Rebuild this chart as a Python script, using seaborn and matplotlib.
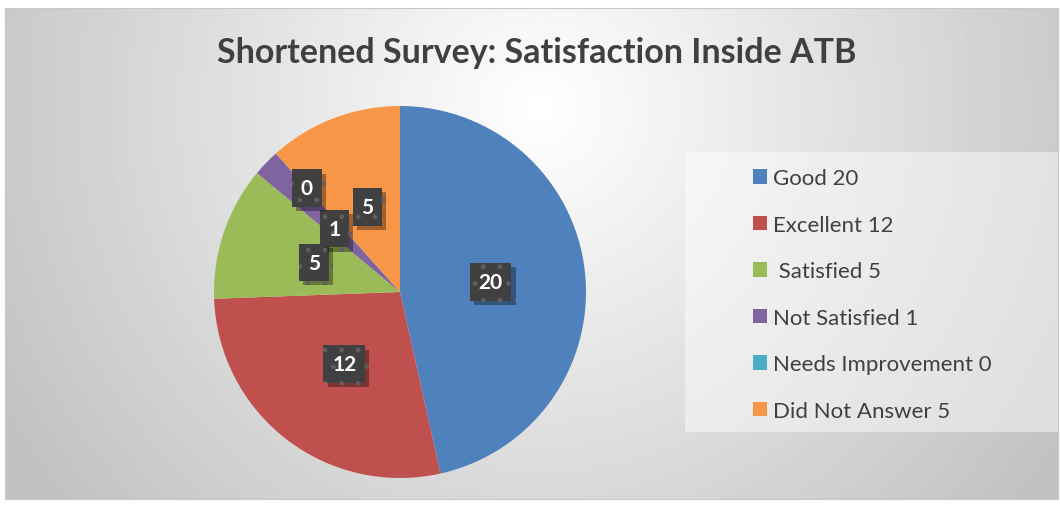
import numpy as np
import matplotlib
matplotlib.use("Agg")
import matplotlib.pyplot as plt
import matplotlib.patheffects as pe
from matplotlib.patches import Patch, Rectangle
import seaborn as sns

# Survey data
categories = ["Good", "Excellent", " Satisfied", "Not Satisfied", "Needs Improvement", "Did Not Answer"]
counts = [20, 12, 5, 1, 0, 5]
colors = ["#4F81BD", "#C0504D", "#9BBB59", "#8064A2", "#4BACC6", "#F79646"]
title = "Shortened Survey: Satisfaction Inside ATB"

sns.set_style("white")
plt.rcParams["font.family"] = ["Lato", "DejaVu Sans"]

W, H = 1060, 506
fig = plt.figure(figsize=(W / 100, H / 100), dpi=100)
fig.patch.set_facecolor("white")

# chart area with radial grey gradient
bg = fig.add_axes([5 / W, 6 / H, 1053 / W, 491 / H])
yy, xx = np.mgrid[0:491, 0:1053]
dist = np.hypot(xx - 535, yy - 100)
shade = np.clip(1.0 - dist / 640 * 0.25, 0.76, 1.0)
bg.imshow(shade, cmap="gray", vmin=0, vmax=1, aspect="auto", interpolation="bilinear")
bg.set_xticks([])
bg.set_yticks([])
for s in bg.spines.values():
    s.set_color("#c8c8c8")
    s.set_linewidth(0.8)

# legend panel
fig.patches.append(Rectangle((685 / W, 1 - 433 / H), 373 / W, 280 / H,
                             transform=fig.transFigure, facecolor="white",
                             alpha=0.45, edgecolor="none", zorder=1))

# pie
r = 186
ax = fig.add_axes([(400 - r) / W, 1 - (293 + r) / H, 2 * r / W, 2 * r / H])
wedges, _ = ax.pie(counts, colors=colors, startangle=90, counterclock=False,
                   radius=1.0, wedgeprops=dict(linewidth=0))
ax.set_xlim(-1, 1)
ax.set_ylim(-1, 1)
ax.set_aspect("auto")
ax.axis("off")

for w, v in zip(wedges, counts):
    mid = np.deg2rad((w.theta1 + w.theta2) / 2)
    d = 0.49 if v > 0 else 0.75
    t = ax.text(d * np.cos(mid), d * np.sin(mid), str(v), ha="center", va="center",
                color="white", fontsize=15, fontweight="bold",
                bbox=dict(boxstyle="square,pad=0.42", facecolor="#404040",
                          edgecolor="#5e5e5e", linewidth=0, hatch="."))
    t.get_bbox_patch().set_path_effects([
        pe.SimplePatchShadow(offset=(3, -3), shadow_rgbFace="black", alpha=0.35),
        pe.Normal()])

# legend
handles = [Patch(facecolor=c, edgecolor="none") for c in colors]
labels = [f"{c} {v}" for c, v in zip(categories, counts)]
fig.legend(handles, labels, loc="upper left", bbox_to_anchor=(753 / W, 1 - 169.5 / H),
           frameon=False, fontsize=16, handlelength=0.62, handleheight=0.62,
           handletextpad=0.3, labelspacing=1.19, borderpad=0, borderaxespad=0,
           labelcolor="#404040")

fig.text(537 / W, 1 - 53 / H, title, ha="center", va="center",
         fontsize=24.5, fontweight="bold", color="#404040")

fig.savefig("out.png", dpi=100)
